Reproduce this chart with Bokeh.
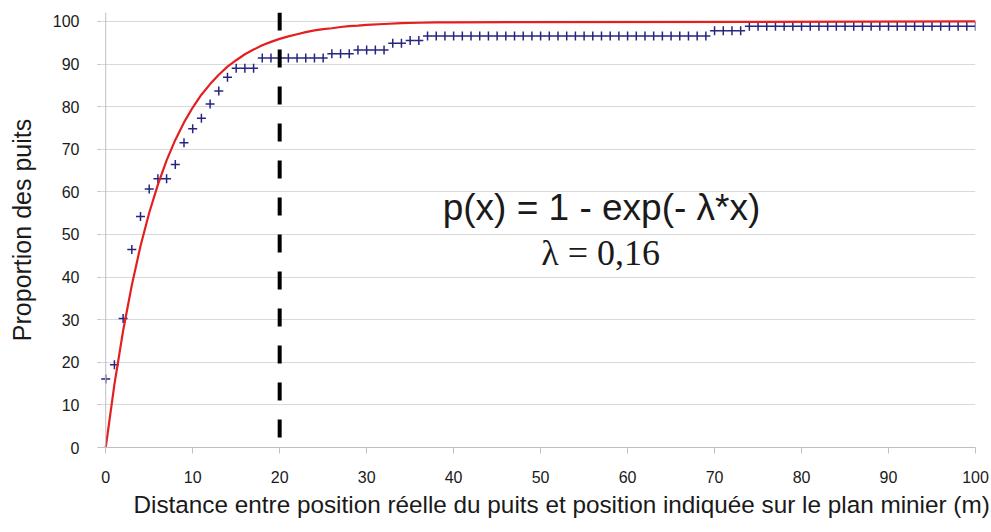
from bokeh.plotting import figure
from bokeh.models import Range1d, FixedTicker, Label, Span, Title
from bokeh.embed import file_html
from bokeh.resources import INLINE

# ---- data ----
distance = list(range(0, 101))  # m, one observation per metre
proportion = [
    16.1, 19.4, 30.3, 46.5, 54.2, 60.7, 63.1, 63.1, 66.4, 71.5,
    74.8, 77.3, 80.6, 83.7, 86.9, 89.0, 89.0, 89.0, 91.4, 91.4,
    91.4, 91.4, 91.4, 91.4, 91.4, 91.4, 92.4, 92.4, 92.4, 93.3,
    93.3, 93.3, 93.3, 94.9, 94.9, 95.5, 95.5, 96.6, 96.6, 96.6,
    96.6, 96.6, 96.6, 96.6, 96.6, 96.6, 96.6, 96.6, 96.6, 96.6,
    96.6, 96.6, 96.6, 96.6, 96.6, 96.6, 96.6, 96.6, 96.6, 96.6,
    96.6, 96.6, 96.6, 96.6, 96.6, 96.6, 96.6, 96.6, 96.6, 96.6,
    97.8, 97.8, 97.8, 97.8, 98.9, 98.9, 98.9, 98.9, 98.9, 98.9,
    98.9, 98.9, 98.9, 98.9, 98.9, 98.9, 98.9, 98.9, 98.9, 98.9,
    98.9, 98.9, 98.9, 98.9, 98.9, 98.9, 98.9, 98.9, 98.9, 98.9,
    98.9,
]
model_x = [0, 1, 2, 3, 4, 5, 6, 7, 8, 9, 10, 11, 12, 13, 14, 15, 16, 17, 18, 19,
           20, 21, 22, 23, 24, 25, 26, 27, 28, 29, 30, 32, 34, 36, 38, 40, 100]
model_y = [0.0, 14.8, 27.4, 38.1, 47.3, 55.1, 61.7, 67.4, 72.2, 76.3, 79.8, 82.8,
           85.3, 87.5, 89.4, 90.9, 92.3, 93.4, 94.4, 95.2, 95.9, 96.5, 97.0, 97.5,
           97.9, 98.2, 98.4, 98.7, 98.9, 99.0, 99.2, 99.4, 99.6, 99.7, 99.8, 99.8, 100.0]
threshold = 20
x_ticks = [0, 10, 20, 30, 40, 50, 60, 70, 80, 90, 100]
y_ticks = [0, 10, 20, 30, 40, 50, 60, 70, 80, 90, 100]
x_title = "Distance entre position réelle du puits et position indiquée sur le plan minier (m)"
y_title = "Proportion des puits"
formula = "p(x) = 1 - exp(- λ*x)"
lambda_text = "λ = 0,16"

FONT = "Liberation Sans"
SERIF = "'Liberation Serif', 'Times New Roman', serif"
TXT = "#1a1a1a"
AXC = "#bfbfbf"

p = figure(width=991, height=532, output_backend="svg", toolbar_location=None,
           x_range=Range1d(-0.6, 100), y_range=Range1d(0, 102.1),
           min_border_left=100, min_border_right=16, min_border_top=12, min_border_bottom=85)
p.outline_line_color = None
p.background_fill_color = "white"
p.border_fill_color = "white"

p.xgrid.visible = False
p.ygrid.ticker = FixedTicker(ticks=y_ticks)
p.ygrid.grid_line_color = "#d9d9d9"
p.ygrid.grid_line_width = 1

p.xaxis.ticker = FixedTicker(ticks=x_ticks)
p.yaxis.ticker = FixedTicker(ticks=y_ticks)
for ax in (p.xaxis, p.yaxis):
    ax.major_tick_line_color = AXC
    ax.minor_tick_line_color = None
    ax.major_tick_in = 0
    ax.major_label_text_font = FONT
    ax.major_label_text_font_size = "16px"
    ax.major_label_text_color = TXT
    ax.axis_label_text_font = FONT
    ax.axis_label_text_font_style = "normal"
    ax.axis_label_text_color = TXT

p.xaxis.axis_line_color = AXC
p.xaxis.major_tick_out = 6
p.xaxis.major_label_standoff = 17

p.yaxis.axis_line_color = None
p.yaxis.major_tick_out = 3
p.yaxis.major_label_standoff = 18
p.yaxis.axis_label = y_title
p.yaxis.axis_label_text_font_size = "25px"
p.yaxis.axis_label_standoff = 14

# x axis title, placed as in the reference (starts right of the frame's left edge)
p.add_layout(Title(text=x_title, align="left", offset=33, text_font=FONT,
                   text_font_size="24.3px", text_font_style="normal",
                   text_color=TXT, standoff=10, vertical_align="top"), "below")

# y axis line at x = 0
p.add_layout(Span(location=0, dimension="height", line_color=AXC, line_width=1))

p.scatter(distance, proportion, marker="cross", size=9, line_width=1.5,
          line_color="#262680")
p.line(model_x, model_y, line_color="#e3201f", line_width=2.2)

p.add_layout(Span(location=threshold, dimension="height", line_color="black",
                  line_width=4, line_dash="18 19"))

p.add_layout(Label(x=57.0, y=56.4, text=formula, text_align="center",
                   text_baseline="alphabetic", text_font=FONT, text_font_size="37px",
                   text_color=TXT))
p.add_layout(Label(x=56.9, y=45.6, text=lambda_text, text_align="center",
                   text_baseline="alphabetic", text_font=SERIF,
                   text_font_size="36px", text_color=TXT))

open("out.html", "w").write(file_html(p, INLINE))
